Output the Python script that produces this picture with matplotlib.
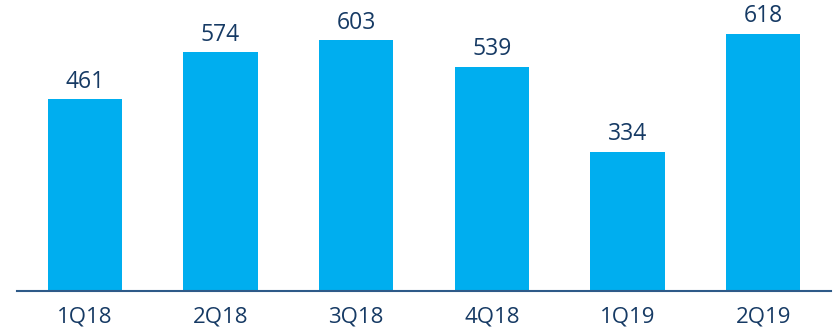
import matplotlib.pyplot as plt

quarters = ["1Q18", "2Q18", "3Q18", "4Q18", "1Q19", "2Q19"]
values = [461, 574, 603, 539, 334, 618]

bar_color = "#00AEEF"
text_color = "#163A64"

plt.rcParams['font.family'] = ['Open Sans', 'DejaVu Sans']

fig = plt.figure(figsize=(8.33, 3.31), dpi=100)
ax = fig.add_axes([17 / 833, 40 / 331, 814 / 833, 291 / 331])

x = range(len(quarters))
bars = ax.bar(x, values, width=0.55, color=bar_color)

for b, v in zip(bars, values):
    ax.text(b.get_x() + b.get_width() / 2, v + 14, str(v), ha="center", va="bottom",
            fontsize=16.5, color=text_color)

ax.set_xlim(-0.5, 5.5)
ax.set_ylim(0, 700)
ax.set_xticks(list(x))
ax.set_xticklabels(quarters, fontsize=16, color=text_color)
ax.tick_params(axis="x", length=0, pad=11)
ax.set_yticks([])

for side in ["top", "right", "left"]:
    ax.spines[side].set_visible(False)
ax.spines["bottom"].set_color("#2E5A88")
ax.spines["bottom"].set_linewidth(1.5)

fig.savefig("out.png", dpi=100)
